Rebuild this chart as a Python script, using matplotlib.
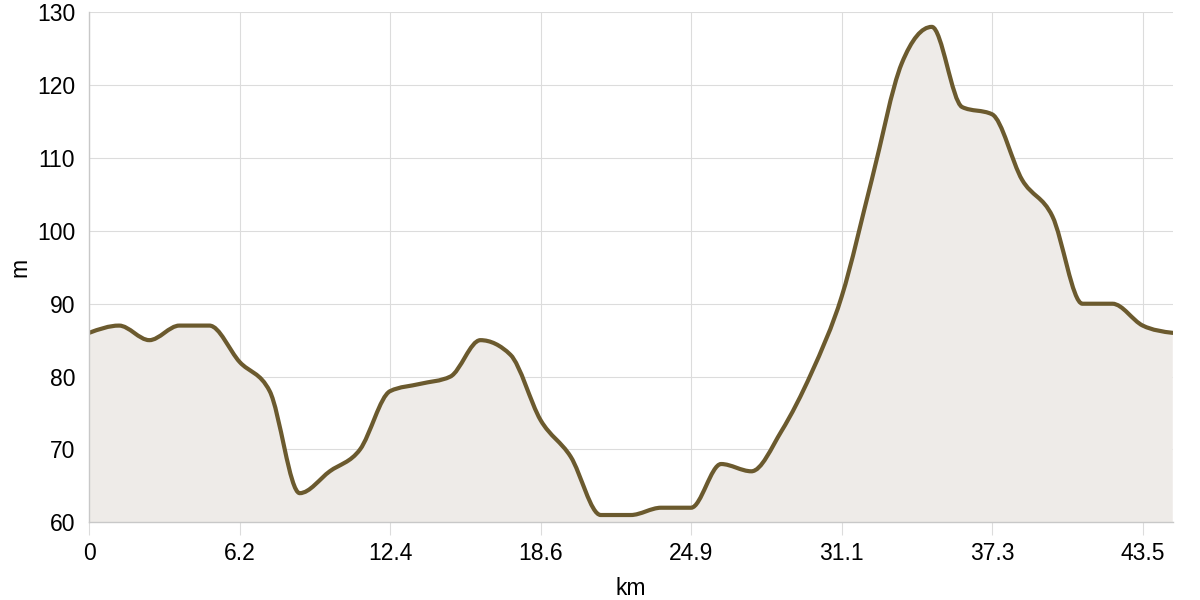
import numpy as np
import matplotlib
matplotlib.use("Agg")
import matplotlib.pyplot as plt
from matplotlib.path import Path
from matplotlib.patches import PathPatch

# distance along the route (km) and elevation (m)
km = [0, 1.24, 2.49, 3.73, 4.97, 6.22, 7.46, 8.70, 9.94, 11.19,
      12.43, 13.67, 14.92, 16.16, 17.40, 18.65, 19.89, 21.13, 22.37, 23.62,
      24.86, 26.10, 27.35, 28.59, 29.83, 31.08, 32.32, 33.56, 34.80, 36.05,
      37.29, 38.53, 39.78, 41.02, 42.26, 43.51, 44.75]
elev = [86, 87, 85, 87, 87, 82, 78, 64, 67, 70,
        78, 79, 80, 85, 83, 74, 69, 61, 61, 62,
        62, 68, 67, 72.5, 80.5, 91, 107, 123, 128, 117,
        116, 107, 102, 90, 90, 87, 86]

tick_km = [0, 6.22, 12.43, 18.65, 24.86, 31.08, 37.29, 43.51]
tick_labels = ["0", "6.2", "12.4", "18.6", "24.9", "31.1", "37.3", "43.5"]
y_ticks = [60, 70, 80, 90, 100, 110, 120, 130]

LINE = "#6b5a2e"
FILL = "#eeebe8"
GRID = "#dcdcdc"
AXIS = "#c8c8c8"


def monotone_tangents(x, y):
    # monotone cubic slopes (same rule as d3 curveMonotoneX)
    n = len(x)
    t = np.zeros(n)
    for i in range(1, n - 1):
        h0, h1 = x[i] - x[i-1], x[i+1] - x[i]
        s0, s1 = (y[i] - y[i-1]) / h0, (y[i+1] - y[i]) / h1
        p = (s0 * h1 + s1 * h0) / (h0 + h1)
        t[i] = (np.sign(s0) + np.sign(s1)) * min(abs(s0), abs(s1), 0.5 * abs(p))
    h = x[1] - x[0]
    t[0] = (3 * (y[1] - y[0]) / h - t[1]) / 2
    h = x[-1] - x[-2]
    t[-1] = (3 * (y[-1] - y[-2]) / h - t[-2]) / 2
    return t


def smooth_path_verts(x, y):
    t = monotone_tangents(x, y)
    verts = [(x[0], y[0])]
    codes = [Path.MOVETO]
    for i in range(len(x) - 1):
        dx = (x[i+1] - x[i]) / 3
        verts += [(x[i] + dx, y[i] + dx * t[i]),
                  (x[i+1] - dx, y[i+1] - dx * t[i+1]),
                  (x[i+1], y[i+1])]
        codes += [Path.CURVE4] * 3
    return verts, codes


plt.rcParams["font.family"] = ["Liberation Sans", "DejaVu Sans"]

fig = plt.figure(figsize=(12, 6), dpi=100)
ax = fig.add_axes([0.0742, 0.1295, 0.9031, 0.85])

x = np.array(km, dtype=float)
y = np.array(elev, dtype=float)
verts, codes = smooth_path_verts(x, y)

# area under the profile
fv = verts + [(x[-1], 60), (x[0], 60), (x[0], y[0])]
fc = codes + [Path.LINETO, Path.LINETO, Path.CLOSEPOLY]
ax.add_patch(PathPatch(Path(fv, fc), facecolor=FILL, edgecolor="none", zorder=2))
ax.add_patch(PathPatch(Path(verts, codes), facecolor="none", edgecolor=LINE,
                       linewidth=3.0, capstyle="round", joinstyle="round", zorder=3))

ax.set_xlim(0, km[-1])
ax.set_ylim(60, 130)
ax.set_xticks(tick_km)
ax.set_xticklabels(tick_labels)
ax.set_yticks(y_ticks)

ax.grid(True, color=GRID, linewidth=0.8, zorder=0)
for g in ax.get_xgridlines() + ax.get_ygridlines():
    g.set_zorder(2.5)

for s in ["top", "right"]:
    ax.spines[s].set_visible(False)
for s in ["left", "bottom"]:
    ax.spines[s].set_color(AXIS)
    ax.spines[s].set_linewidth(1)
    ax.spines[s].set_zorder(4)

ax.tick_params(axis="x", length=9, width=0.8, color=GRID, labelsize=16.5, pad=5)
ax.tick_params(axis="y", length=0, labelsize=16.5, pad=10)

ax.set_xlabel("km", fontsize=16.5, labelpad=9)
ax.set_ylabel("m", fontsize=16.5, labelpad=4)

fig.savefig("out.png", dpi=100)
